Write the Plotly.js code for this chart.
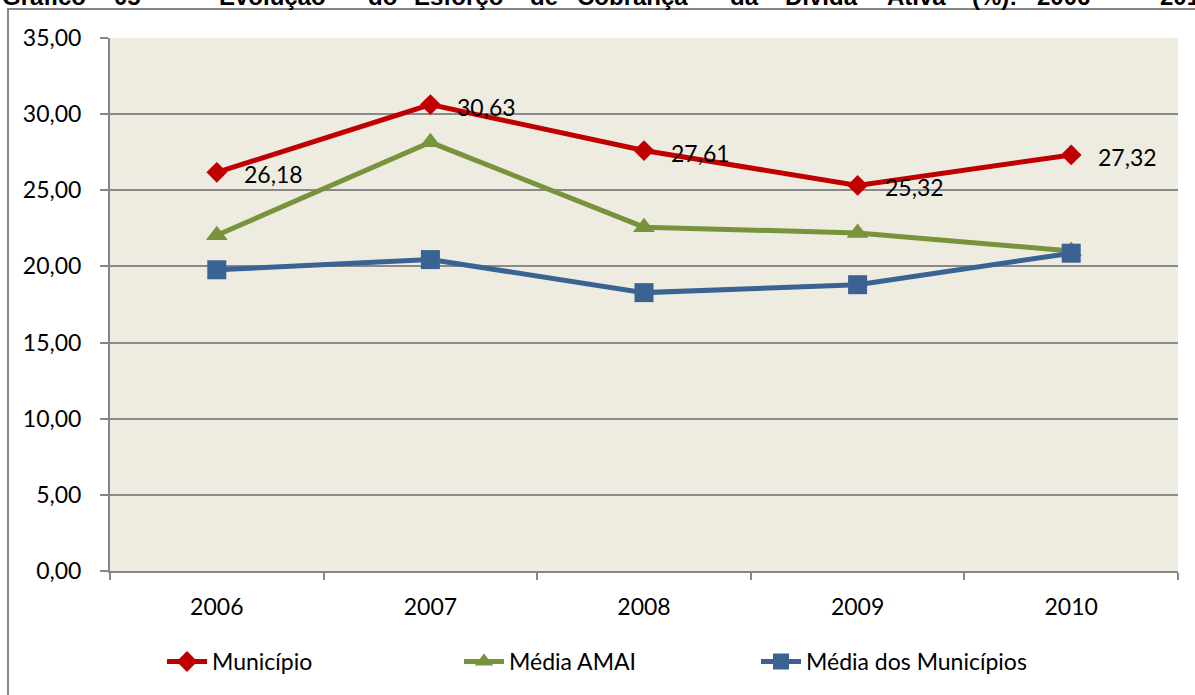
<!DOCTYPE html>
<html>
<head>
<meta charset="utf-8">
<script src="https://cdn.plot.ly/plotly-3.0.1.min.js"></script>
<style>html,body{margin:0;padding:0;background:#fff;}#chart{width:1195px;height:695px;}</style>
</head>
<body>
<div id="chart"></div>
<script>
var years = ['2006', '2007', '2008', '2009', '2010'];
var municipio = [26.18, 30.63, 27.61, 25.32, 27.32];
var mediaAmai = [22.05, 28.15, 22.58, 22.2, 21.02];
var mediaMunicipios = [19.78, 20.45, 18.28, 18.8, 20.87];
var seriesNames = ['Município', 'Média AMAI', 'Média dos Municípios'];
var titleWords = ['Gráfico', '05', '–', 'Evolução', 'do', 'Esforço', 'de', 'Cobrança', 'da', 'Dívida', 'Ativa', '(%):', '2006', '–', '2010'];

var W = 1195, H = 695;
var L = 110, R = 17, T = 38, B = 123.6;
var pw = W - L - R, ph = H - T - B;
function px(x) { return (x - L) / pw; }
function py(y) { return (H - B - y) / ph; }

var FONT = 'Lato, "Open Sans", sans-serif';
var fmt = function (v) { return v.toFixed(2).replace('.', ','); };

var traces = [
  {x: years, y: municipio, name: seriesNames[0], type: 'scatter', mode: 'lines+markers',
   line: {color: '#C00000', width: 5}, marker: {symbol: 'diamond', size: 16, color: '#C00000'}},
  {x: years, y: mediaAmai, name: seriesNames[1], type: 'scatter', mode: 'lines+markers',
   line: {color: '#77933C', width: 5}, marker: {symbol: 'triangle-up', size: 19, color: '#77933C'}},
  {x: years, y: mediaMunicipios, name: seriesNames[2], type: 'scatter', mode: 'lines+markers',
   line: {color: '#3A6394', width: 5}, marker: {symbol: 'square', size: 19, color: '#3A6394'}}
];

// value labels for the "Município" series (x given as category index)
var annotations = years.map(function (yr, i) {
  return {x: i, y: municipio[i], xref: 'x', yref: 'y', text: fmt(municipio[i]),
    showarrow: false, xanchor: 'left', yanchor: 'middle', xshift: 25, yshift: -2,
    font: {family: FONT, size: 23, color: '#000'}};
});

// cut-off caption words at top of the page
var wordX = [0, 112, 175, 217, 366, 412, 528, 575, 728, 783, 885, 970, 1035, 1128, 1158];
titleWords.forEach(function (w, i) {
  annotations.push({x: px(wordX[i]), y: py(-4), xref: 'paper', yref: 'paper', text: '<b>' + w + '</b>',
    showarrow: false, xanchor: 'left', yanchor: 'middle',
    font: {family: 'Liberation Sans, Arial, sans-serif', size: 24, color: '#000'}});
});

var layout = {
  width: W, height: H,
  margin: {l: L, r: R, t: T, b: B, pad: 0, autoexpand: false},
  paper_bgcolor: '#ffffff',
  plot_bgcolor: '#EEECE1',
  separators: ',.',
  font: {family: FONT, size: 23, color: '#000'},
  showlegend: true,
  legend: {orientation: 'h', x: px(162), xanchor: 'left', y: py(662), yanchor: 'middle',
    entrywidth: 242, entrywidthmode: 'pixels', itemwidth: 40,
    font: {family: FONT, size: 23, color: '#000'}, bgcolor: 'rgba(0,0,0,0)'},
  xaxis: {type: 'category', range: [-0.5, 4.5], showgrid: false, showline: true, linecolor: '#868686', linewidth: 2,
    ticks: 'outside', tickson: 'boundaries', ticklen: 7, tickcolor: '#868686', tickwidth: 2,
    ticklabelstandoff: 14, tickfont: {family: FONT, size: 23, color: '#000'}, zeroline: false, fixedrange: true},
  yaxis: {range: [0, 35], dtick: 5, tick0: 0, tickformat: '.2f', showgrid: true, gridcolor: '#8A8A8A', gridwidth: 2,
    showline: true, linecolor: '#868686', linewidth: 2, ticks: 'outside', ticklen: 8, tickcolor: '#868686', tickwidth: 2,
    ticklabelstandoff: 14, tickfont: {family: FONT, size: 23, color: '#000'}, zeroline: false, fixedrange: true},
  shapes: [
    {type: 'rect', xref: 'paper', yref: 'paper', x0: px(8), x1: px(1210), y0: py(9), y1: py(710),
     line: {color: '#868686', width: 2}, fillcolor: 'rgba(0,0,0,0)', layer: 'below'}
  ],
  annotations: annotations
};

Plotly.newPlot('chart', traces, layout, {displayModeBar: false, staticPlot: true});
</script>
</body>
</html>
